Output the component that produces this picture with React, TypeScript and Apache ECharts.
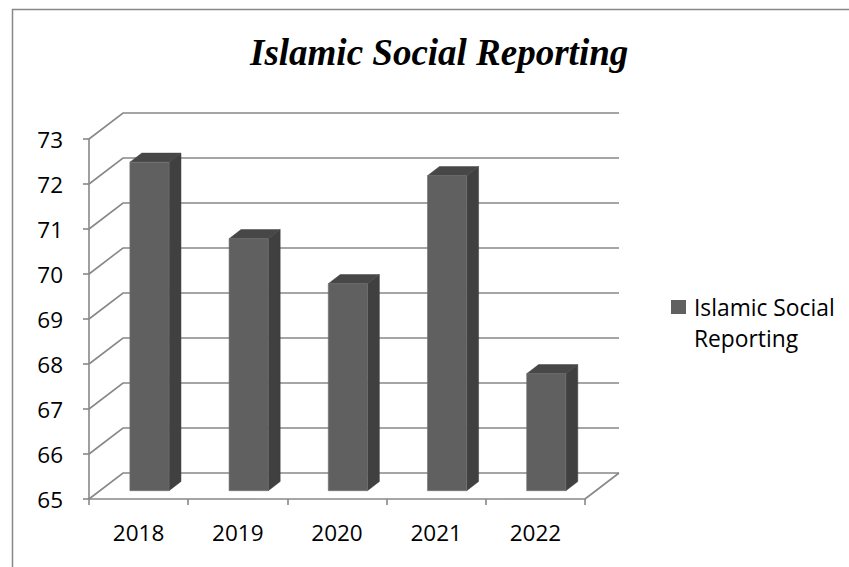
import React, { useEffect, useRef } from "react";
import * as echarts from "echarts";

const categories = ["2018", "2019", "2020", "2021", "2022"];
const values = [72.3, 70.6, 69.6, 72.0, 67.6];
const yTicks = [65, 66, 67, 68, 69, 70, 71, 72, 73];
const seriesName = "Islamic Social Reporting";
const legendLines = ["Islamic Social", "Reporting"];

const DX = 34;
const DY = -26;
const F0 = 0.32;
const F1 = 0.67;
const GRAY = "#888888";
const FONT = "'Open Sans', 'Noto Sans', sans-serif";

export default function App() {
  const ref = useRef<HTMLDivElement>(null);
  useEffect(() => {
    if (!ref.current) return;
    const chart = echarts.init(ref.current, undefined, { renderer: "svg" });
    const yMin = yTicks[0];
    chart.setOption({
      animation: false,
      backgroundColor: "#ffffff",
      title: {
        text: seriesName,
        left: 245,
        top: 29,
        textStyle: {
          fontFamily: "'Liberation Serif', 'DejaVu Serif', serif",
          fontStyle: "italic",
          fontWeight: "bold",
          fontSize: 37,
          color: "#000",
        },
      },
      grid: { left: 89, top: 139, width: 496, height: 360 },
      xAxis: {
        type: "category",
        data: categories,
        axisLine: { show: true, lineStyle: { color: GRAY, width: 1.6 } },
        axisTick: { show: true, length: 6, lineStyle: { color: GRAY, width: 1.6 } },
        axisLabel: { fontFamily: FONT, fontSize: 22.5, color: "#000", margin: 22 },
        splitLine: { show: false },
      },
      yAxis: {
        type: "value",
        min: 65,
        max: 73,
        interval: 1,
        axisLine: { show: true, lineStyle: { color: GRAY, width: 1.6 } },
        axisTick: { show: true, length: 6, lineStyle: { color: GRAY, width: 1.6 } },
        axisLabel: { fontFamily: FONT, fontSize: 22.5, color: "#000", margin: 26 },
        splitLine: { show: false },
      },
      graphic: [
        {
          type: "rect",
          shape: { x: 12.5, y: 9.5, width: 1000, height: 1000 },
          style: { fill: "none", stroke: GRAY, lineWidth: 1.5 },
          silent: true,
        },
        {
          type: "rect",
          shape: { x: 671, y: 300, width: 15, height: 14 },
          style: { fill: "#606060" },
        },
        {
          type: "text",
          x: 694,
          y: 292,
          style: {
            text: legendLines.join("\n"),
            font: `22.8px ${FONT}`,
            fill: "#000",
            lineHeight: 31,
          },
        },
      ],
      series: [
        {
          type: "custom",
          name: "walls",
          silent: true,
          z: 1,
          data: yTicks.map((v) => [0, v]),
          renderItem: (params: any, api: any) => {
            const cs = params.coordSys;
            const x0 = cs.x;
            const x1 = cs.x + cs.width;
            const y = api.coord([0, api.value(1)])[1];
            const children: any[] = [
              {
                type: "polyline",
                shape: {
                  points: [
                    [x0, y],
                    [x0 + DX, y + DY],
                    [x1 + DX, y + DY],
                  ],
                },
                style: { stroke: GRAY, lineWidth: 1.6, fill: "none" },
              },
            ];
            if (api.value(1) === yMin) {
              children.push({
                type: "line",
                shape: { x1: x1, y1: y, x2: x1 + DX, y2: y + DY },
                style: { stroke: GRAY, lineWidth: 1.6 },
              });
            }
            return { type: "group", children };
          },
        },
        {
          type: "custom",
          name: seriesName,
          z: 5,
          itemStyle: { color: "#606060" },
          data: values.map((v, i) => [i, v]),
          renderItem: (params: any, api: any) => {
            const idx = api.value(0);
            const val = api.value(1);
            const top = api.coord([idx, val]);
            const base = api.coord([idx, yMin]);
            const band = api.size([1, 0])[0];
            const w = band * 0.395;
            const cx = top[0];
            const ox0 = F0 * DX, oy0 = F0 * DY;
            const ox1 = F1 * DX, oy1 = F1 * DY;
            const l = cx - w / 2;
            const r = cx + w / 2;
            return {
              type: "group",
              children: [
                {
                  type: "polygon",
                  shape: {
                    points: [
                      [r + ox0, top[1] + oy0],
                      [r + ox1, top[1] + oy1],
                      [r + ox1, base[1] + oy1],
                      [r + ox0, base[1] + oy0],
                    ],
                  },
                  style: { fill: "#404040", stroke: "#3a3a3a", lineWidth: 0.5 },
                },
                {
                  type: "polygon",
                  shape: {
                    points: [
                      [l + ox0, top[1] + oy0],
                      [l + ox1, top[1] + oy1],
                      [r + ox1, top[1] + oy1],
                      [r + ox0, top[1] + oy0],
                    ],
                  },
                  style: { fill: "#474747", stroke: "#444", lineWidth: 0.5 },
                },
                {
                  type: "rect",
                  shape: {
                    x: l + ox0,
                    y: top[1] + oy0,
                    width: w,
                    height: base[1] - top[1],
                  },
                  style: { fill: "#606060", stroke: "#707070", lineWidth: 0.6 },
                },
              ],
            };
          },
        },
      ],
    });
    return () => chart.dispose();
  }, []);
  return (
    <div
      ref={ref}
      style={{ position: "absolute", left: 0, top: 0, width: 849, height: 567 }}
    />
  );
}
